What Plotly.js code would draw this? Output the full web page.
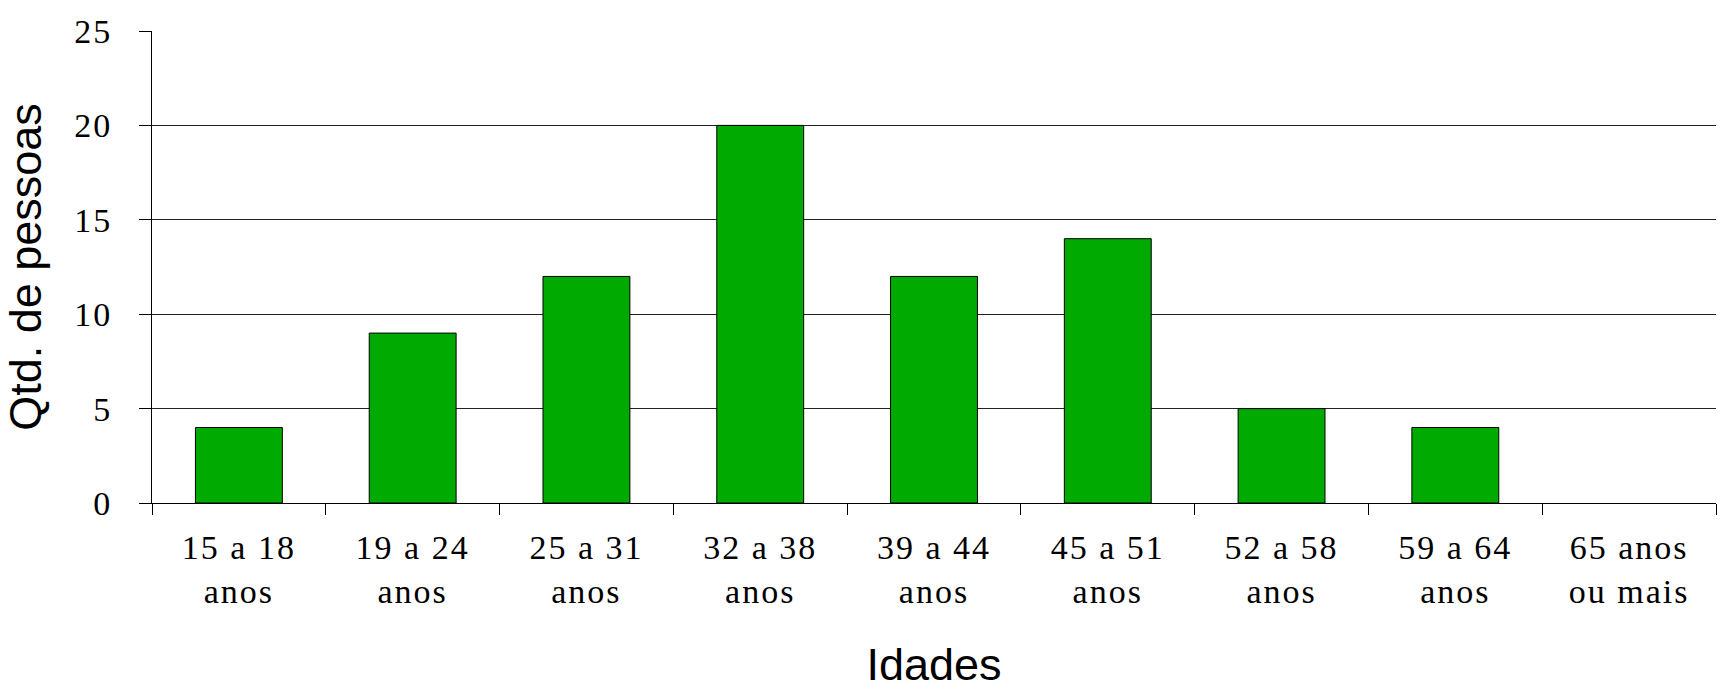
<!DOCTYPE html>
<html>
<head>
<meta charset="utf-8">
<script src="https://cdn.plot.ly/plotly-3.0.1.min.js"></script>
<style>
  html, body { margin: 0; padding: 0; background: white; }
  #chart { width: 1725px; height: 690px; }
  .xtick text, .ytick text { letter-spacing: 2px; }
</style>
</head>
<body>
<div id="chart"></div>
<script>
const ageGroups = ['15 a 18<br>anos', '19 a 24<br>anos', '25 a 31<br>anos', '32 a 38<br>anos',
    '39 a 44<br>anos', '45 a 51<br>anos', '52 a 58<br>anos', '59 a 64<br>anos', '65 anos<br>ou mais'];
const peopleCount = [4, 9, 12, 20, 12, 14, 5, 4, 0];
const yTicks = [0, 5, 10, 15, 20, 25];

const tickFont = { family: 'Liberation Serif', size: 34, color: '#000' };
const titleFont = { family: 'Liberation Sans', size: 45, color: '#000' };

const data = [{
    type: 'bar',
    x: ageGroups,
    y: peopleCount,
    width: 0.5,
    marker: {
        color: '#00aa00',
        // no outline on empty bars
        line: { color: '#000', width: peopleCount.map(v => v > 0 ? 1 : 0) }
    },
    hoverinfo: 'x+y'
}];

const layout = {
    width: 1725,
    height: 690,
    margin: { l: 152, r: 9, t: 31, b: 187 },
    paper_bgcolor: 'white',
    plot_bgcolor: 'white',
    showlegend: false,
    xaxis: {
        type: 'category',
        showline: true,
        linecolor: '#000',
        linewidth: 1,
        showgrid: false,
        ticks: 'outside',
        tickson: 'boundaries',
        ticklen: 11,
        tickcolor: '#000',
        tickfont: tickFont,
        ticklabelstandoff: 14,
        automargin: false,
        title: { text: 'Idades', font: titleFont, standoff: 40 }
    },
    yaxis: {
        range: [0, 25],
        tickvals: yTicks,
        showline: true,
        linecolor: '#000',
        linewidth: 1,
        showgrid: true,
        gridcolor: '#222',
        gridwidth: 1,
        zeroline: false,
        ticks: 'outside',
        ticklen: 12,
        tickcolor: '#000',
        tickfont: tickFont,
        ticklabelstandoff: 20,
        automargin: false,
        title: { text: 'Qtd. de pessoas', font: titleFont, standoff: 22 }
    }
};

const config = {
    displayModeBar: false,
    responsive: false,
    staticPlot: true
};

Plotly.newPlot('chart', data, layout, config);
</script>
</body>
</html>
